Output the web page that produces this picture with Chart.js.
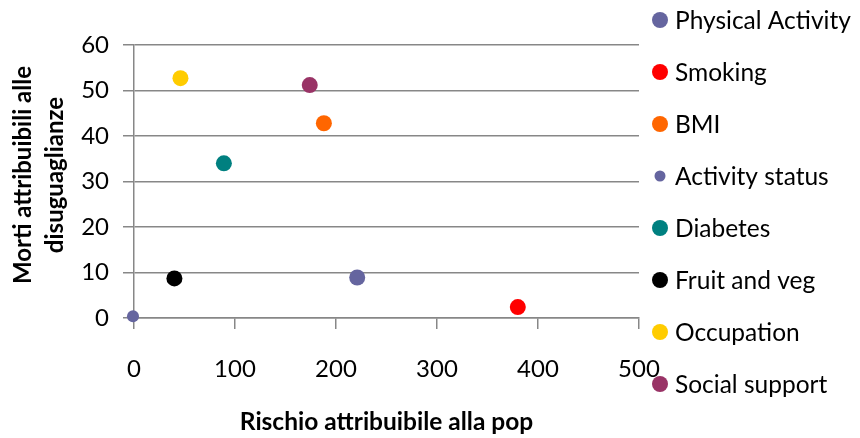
<!DOCTYPE html>
<html>
<head>
<meta charset="utf-8">
<script src="https://cdn.jsdelivr.net/npm/chart.js@4.4.1/dist/chart.umd.min.js"></script>
<style>
  html, body { margin: 0; padding: 0; background: #ffffff; }
  #wrap { width: 860px; height: 438px; position: relative; }
</style>
</head>
<body>
<div id="wrap"><canvas id="chart"></canvas></div>
<script>
// Risk factors: population attributable risk vs deaths attributable to inequalities
const categories = ['Physical Activity', 'Smoking', 'BMI', 'Activity status',
                    'Diabetes', 'Fruit and veg', 'Occupation', 'Social support'];
const riskValues  = [221, 380, 188, -1, 89, 40, 46, 174];
const deathValues = [8.9, 2.4, 42.8, 0.4, 34.0, 8.7, 52.7, 51.2];
const pointColors = ['#65659F', '#FF0000', '#FF6600', '#65659F',
                     '#008080', '#000000', '#FFCC00', '#993366'];
const pointSizes  = [8, 8, 8, 6, 8, 8, 8, 8];
const xTicks = [0, 100, 200, 300, 400, 500];
const yTicks = [0, 10, 20, 30, 40, 50, 60];
const xTitle = 'Rischio attribuibile alla pop';
const yTitleLines = ['Morti attribuibili alle', 'disuguaglianze'];

const GRID = '#878787';
const FONT = 'Lato';

const datasets = categories.map((name, i) => ({
  label: name,
  data: [{ x: riskValues[i], y: deathValues[i] }],
  backgroundColor: pointColors[i],
  borderWidth: 0,
  pointRadius: pointSizes[i],
  pointHoverRadius: pointSizes[i],
  clip: false
}));

// Rotated two-line title for the value axis
const yTitlePlugin = {
  id: 'yTitle',
  afterDraw(chart) {
    const ctx = chart.ctx;
    ctx.save();
    ctx.fillStyle = '#000';
    ctx.font = 'bold 24px ' + FONT;
    ctx.textAlign = 'center';
    ctx.textBaseline = 'middle';
    yTitleLines.forEach((line, i) => {
      ctx.save();
      ctx.translate(23 + 32 * i, 175);
      ctx.rotate(-Math.PI / 2);
      ctx.fillText(line, 0, 0);
      ctx.restore();
    });
    ctx.restore();
  }
};

// Series key down the right-hand side
const sideLegendPlugin = {
  id: 'sideLegend',
  afterDraw(chart) {
    const ctx = chart.ctx;
    ctx.save();
    ctx.font = '24.5px ' + FONT;
    ctx.textAlign = 'left';
    ctx.textBaseline = 'middle';
    chart.data.datasets.forEach((ds, i) => {
      const y = 20 + 52 * i;
      const r = ds.pointRadius === 8 ? 8 : 5.5;
      ctx.beginPath();
      ctx.arc(660, y, r, 0, Math.PI * 2);
      ctx.fillStyle = ds.backgroundColor;
      ctx.fill();
      ctx.fillStyle = '#000';
      ctx.fillText(ds.label, 675, y + 1);
    });
    ctx.restore();
  }
};

new Chart(document.getElementById('chart'), {
  type: 'scatter',
  data: { datasets },
  plugins: [yTitlePlugin, sideLegendPlugin],
  options: {
    responsive: true,
    maintainAspectRatio: false,
    animation: false,
    events: [],
    layout: { padding: { top: 45, right: 221, left: 0, bottom: 0 } },
    plugins: { legend: { display: false }, tooltip: { enabled: false } },
    scales: {
      x: {
        type: 'linear',
        position: 'bottom',
        min: xTicks[0],
        max: xTicks[xTicks.length - 1],
        afterBuildTicks: (s) => { s.ticks = xTicks.map(v => ({ value: v })); },
        afterFit: (s) => { s.height = 120; },
        ticks: { color: '#000', font: { family: FONT, size: 24 }, padding: 26, maxRotation: 0, autoSkip: false },
        grid: { drawOnChartArea: false, drawTicks: true, tickLength: 11, color: GRID, lineWidth: 1.5 },
        border: { display: true, color: GRID, width: 1.5 },
        title: {
          display: true,
          text: xTitle,
          color: '#000',
          font: { family: FONT, size: 24.5, weight: 'bold' },
          padding: { top: 0, bottom: 1 }
        }
      },
      y: {
        type: 'linear',
        min: yTicks[0],
        max: yTicks[yTicks.length - 1],
        afterBuildTicks: (s) => { s.ticks = yTicks.map(v => ({ value: v })); },
        afterFit: (s) => { s.width = 134; },
        ticks: { color: '#000', font: { family: FONT, size: 24 }, padding: 14 },
        grid: { drawOnChartArea: true, drawTicks: true, tickLength: 11, color: GRID, lineWidth: 1.5 },
        border: { display: true, color: GRID, width: 1.5 }
      }
    }
  }
});
</script>
</body>
</html>
